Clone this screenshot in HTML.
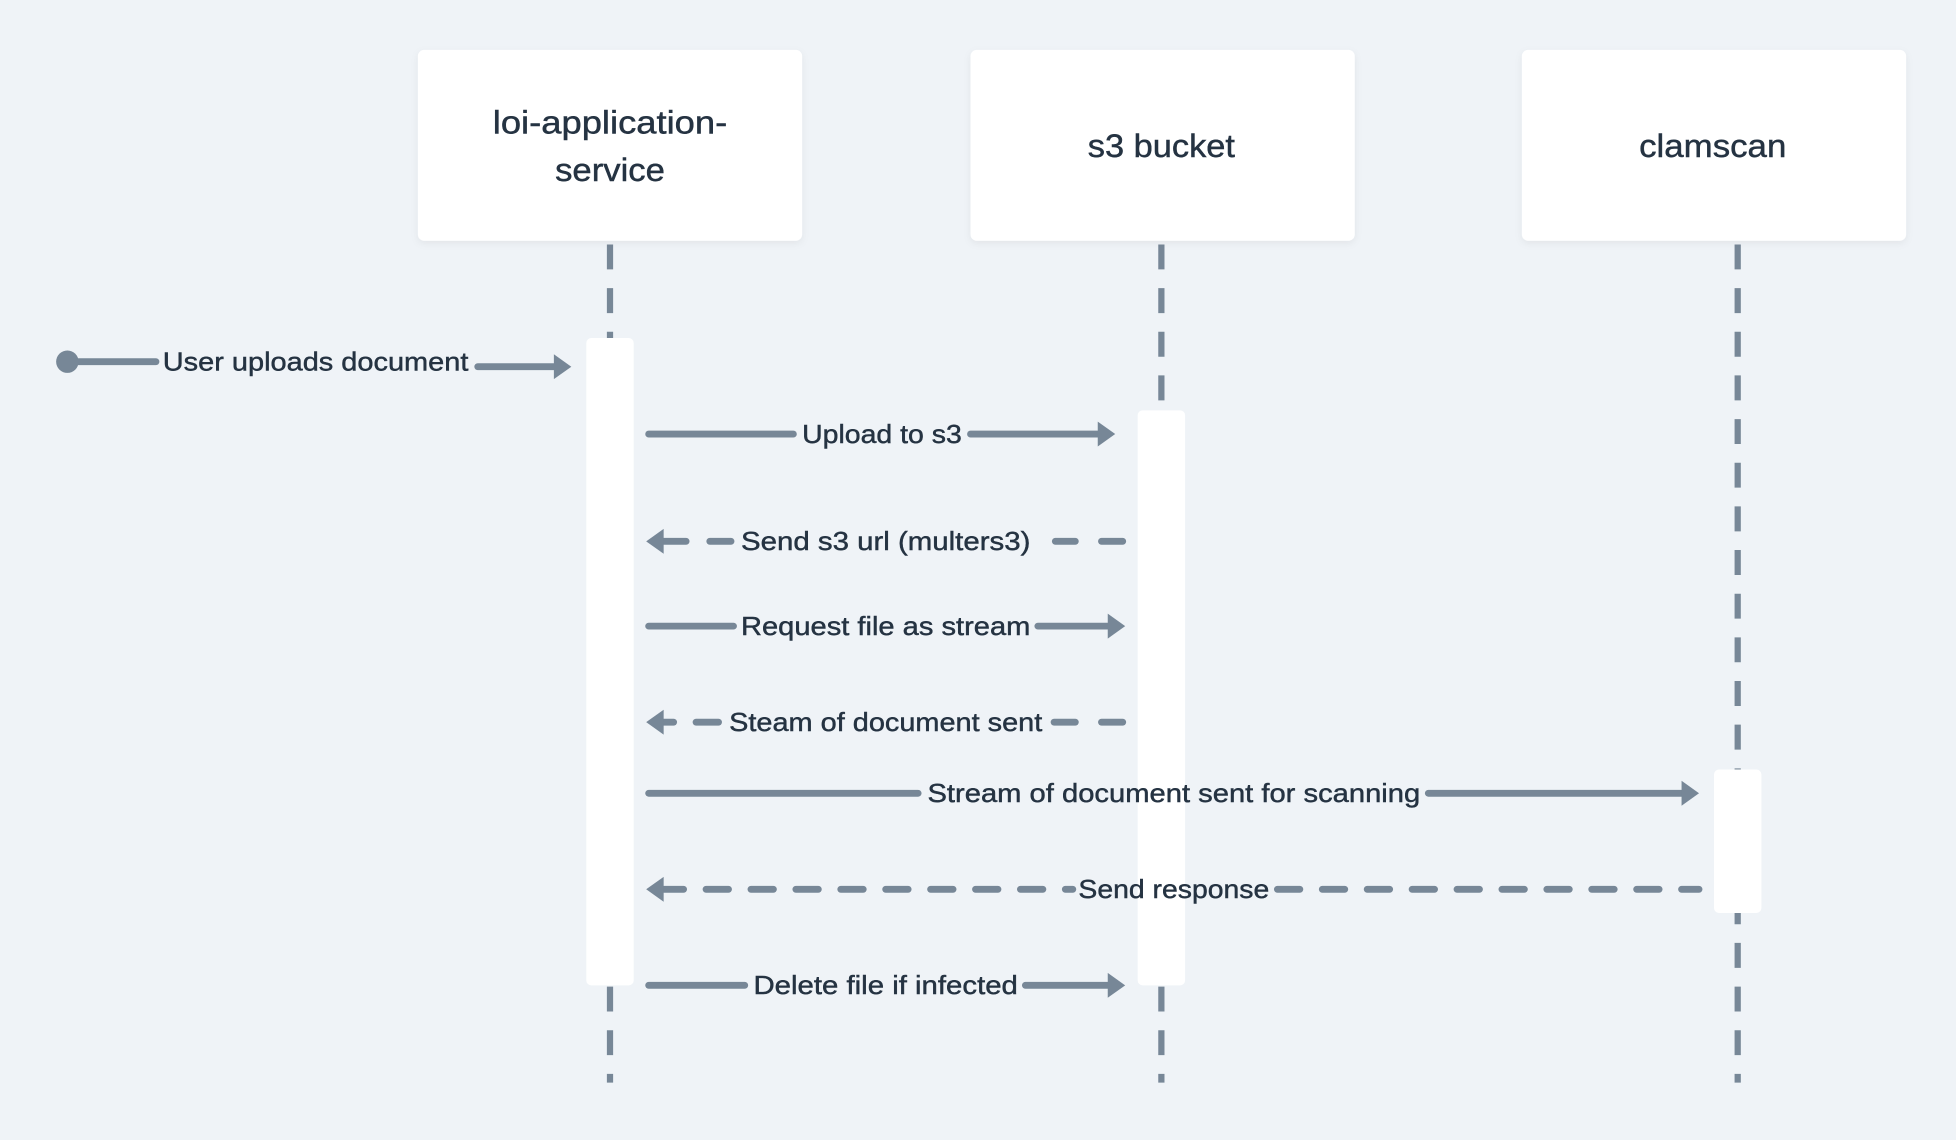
<!DOCTYPE html>
<html><head><meta charset="utf-8"><style>
html,body{margin:0;padding:0;background:#eff3f7;}
svg{display:block;}
text{font-family:"Liberation Sans",sans-serif;fill:#253342;stroke:#253342;stroke-width:0.35;}
</style></head><body>
<svg width="1956" height="1140" viewBox="0 0 1568 914" preserveAspectRatio="none" xmlns="http://www.w3.org/2000/svg">
<defs>
<filter id="sh" x="-10%" y="-10%" width="120%" height="130%"><feDropShadow dx="0" dy="2" stdDeviation="3" flood-color="#000" flood-opacity="0.06"/></filter>
</defs>
<rect width="1568" height="914" fill="#eff3f7"/>
<g stroke="#778797" stroke-width="5" stroke-dasharray="20 15" fill="none">
<line x1="489" y1="196" x2="489" y2="868"/>
<line x1="931" y1="196" x2="931" y2="868"/>
<line x1="1393" y1="196" x2="1393" y2="868"/>
</g>
<g fill="#fff" filter="url(#sh)">
<rect x="335" y="40" width="308" height="153" rx="5"/>
<rect x="778" y="40" width="308" height="153" rx="5"/>
<rect x="1220" y="40" width="308" height="153" rx="5"/>
</g>
<g font-size="26" text-anchor="middle">
<text x="489" y="107" textLength="188" lengthAdjust="spacingAndGlyphs">loi-application-</text>
<text x="489" y="145" textLength="88" lengthAdjust="spacingAndGlyphs">service</text>
<text x="931" y="126" textLength="118" lengthAdjust="spacingAndGlyphs">s3 bucket</text>
<text x="1373" y="126" textLength="118" lengthAdjust="spacingAndGlyphs">clamscan</text>
</g>
<g fill="#fff">
<rect x="470" y="271" width="38" height="519" rx="4"/>
<rect x="912" y="329" width="38" height="461" rx="4"/>
<rect x="1374" y="617" width="38" height="115" rx="4"/>
</g>
<g stroke="#778797" stroke-width="5.5" stroke-linecap="round" fill="none">
<line x1="54" y1="290" x2="125" y2="290"/>
<line x1="383" y1="294" x2="446" y2="294"/>
<line x1="520" y1="348" x2="636" y2="348"/>
<line x1="778" y1="348" x2="882" y2="348"/>
<line x1="530" y1="434" x2="550" y2="434"/>
<line x1="569" y1="434" x2="586" y2="434"/>
<line x1="846" y1="434" x2="862" y2="434"/>
<line x1="883" y1="434" x2="900" y2="434"/>
<line x1="520" y1="502" x2="588" y2="502"/>
<line x1="832" y1="502" x2="888" y2="502"/>
<line x1="530" y1="579" x2="540" y2="579"/>
<line x1="558" y1="579" x2="576" y2="579"/>
<line x1="845" y1="579" x2="862" y2="579"/>
<line x1="883" y1="579" x2="900" y2="579"/>
<line x1="520" y1="636" x2="736" y2="636"/>
<line x1="1145" y1="636" x2="1350" y2="636"/>
<line x1="530" y1="713" x2="860" y2="713" stroke-dasharray="18 18"/>
<line x1="1024" y1="713" x2="1362" y2="713" stroke-dasharray="18 18"/>
<line x1="520" y1="790" x2="597" y2="790"/>
<line x1="822" y1="790" x2="888" y2="790"/>
</g>
<g fill="#778797">
<circle cx="54" cy="290" r="9"/>
<polygon points="444,284 458,294 444,304"/>
<polygon points="880,338 894,348 880,358"/>
<polygon points="532,424 518,434 532,444"/>
<polygon points="888,492 902,502 888,512"/>
<polygon points="532,569 518,579 532,589"/>
<polygon points="1348,626 1362,636 1348,646"/>
<polygon points="532,703 518,713 532,723"/>
<polygon points="888,780 902,790 888,800"/>
</g>
<g font-size="21" text-anchor="middle">
<text x="253" y="297" textLength="245" lengthAdjust="spacingAndGlyphs">User uploads document</text>
<text x="707" y="355" textLength="128" lengthAdjust="spacingAndGlyphs">Upload to s3</text>
<text x="710" y="441" textLength="232" lengthAdjust="spacingAndGlyphs">Send s3 url (multers3)</text>
<text x="710" y="509" textLength="232" lengthAdjust="spacingAndGlyphs">Request file as stream</text>
<text x="710" y="586" textLength="251" lengthAdjust="spacingAndGlyphs">Steam of document sent</text>
<text x="941" y="643" textLength="395" lengthAdjust="spacingAndGlyphs">Stream of document sent for scanning</text>
<text x="941" y="720" textLength="153" lengthAdjust="spacingAndGlyphs">Send response</text>
<text x="710" y="797" textLength="212" lengthAdjust="spacingAndGlyphs">Delete file if infected</text>
</g>
</svg>
</body></html>
